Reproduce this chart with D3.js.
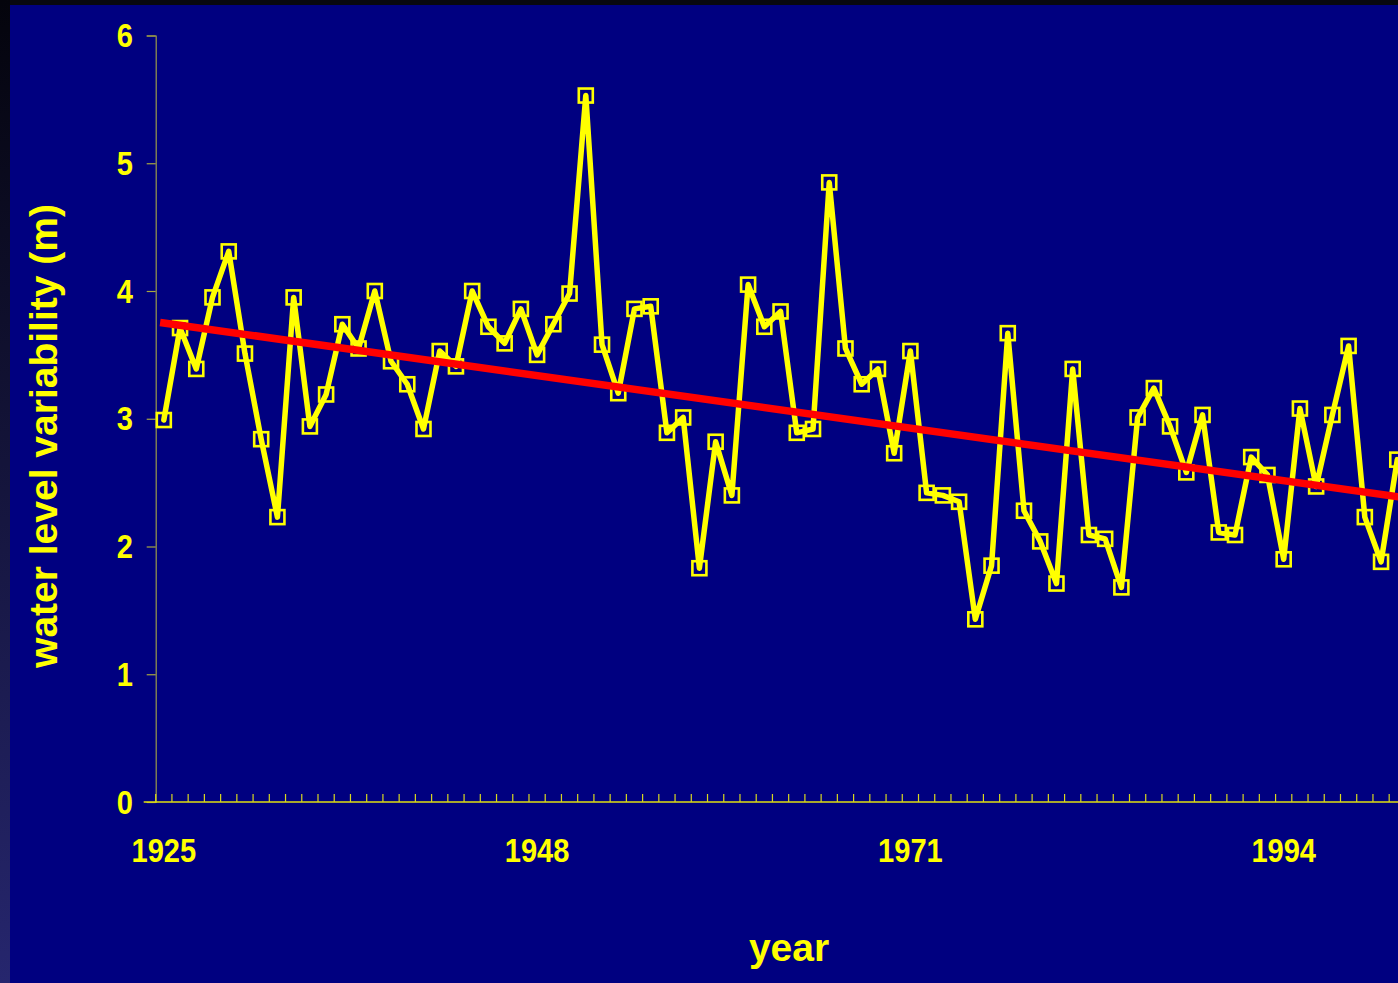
<!DOCTYPE html>
<html>
<head>
<meta charset="utf-8">
<script src="https://cdn.jsdelivr.net/npm/d3@7"></script>
<style>
  html, body { margin: 0; padding: 0; background: #0a0a16; overflow: hidden; }
  svg { display: block; }
</style>
</head>
<body>
<svg id="chart" width="1398" height="983"></svg>
<script>
// ---- data ----
const years = d3.range(1925, 2002);
const levels = [
  2.99, 3.71, 3.39, 3.95, 4.31, 3.51, 2.84, 2.23, 3.95, 2.94,
  3.19, 3.74, 3.55, 4.00, 3.45, 3.27, 2.92, 3.53, 3.41, 4.00,
  3.72, 3.59, 3.86, 3.50, 3.74, 3.98, 5.53, 3.58, 3.20, 3.86,
  3.88, 2.89, 3.01, 1.83, 2.82, 2.40, 4.05, 3.72, 3.84, 2.89,
  2.92, 4.85, 3.55, 3.27, 3.39, 2.73, 3.53, 2.42, 2.40, 2.35,
  1.43, 1.85, 3.67, 2.28, 2.04, 1.71, 3.39, 2.09, 2.06, 1.68,
  3.01, 3.24, 2.94, 2.58, 3.03, 2.11, 2.09, 2.70, 2.56, 1.90,
  3.08, 2.47, 3.03, 3.57, 2.23, 1.88, 2.68
];
const trendYears = [1925, 2001];
const trendValues = [3.75, 2.39];
const xLabelYears = [1925, 1948, 1971, 1994];
const yTicks = [0, 1, 2, 3, 4, 5, 6];
const xTitle = "year";
const yTitle = "water level variability (m)";

// ---- layout ----
const W = 1398, H = 983;
const plotLeft = 155.7, plotTop = 35.5, plotBottom = 802;
const band = 16.23;

const svg = d3.select("#chart");

// background frame
const defs = svg.append("defs");
const lg = defs.append("linearGradient").attr("id", "edge").attr("x1", 0).attr("y1", 0).attr("x2", 0).attr("y2", 1);
lg.append("stop").attr("offset", "0%").attr("stop-color", "#04040c");
lg.append("stop").attr("offset", "100%").attr("stop-color", "#26266e");
svg.append("rect").attr("x", 0).attr("y", 0).attr("width", W).attr("height", H).attr("fill", "#08080f");
svg.append("rect").attr("x", 0).attr("y", 0).attr("width", 10).attr("height", H).attr("fill", "url(#edge)");
svg.append("rect").attr("x", 10).attr("y", 5).attr("width", W - 10).attr("height", H - 5).attr("fill", "#000080");

// scales
const x = d3.scaleBand()
  .domain(years.concat([2002]))
  .range([plotLeft, plotLeft + band * (years.length + 1)])
  .paddingInner(0).paddingOuter(0);
const xc = d => x(d) + x.bandwidth() / 2;
const y = d3.scaleLinear().domain([0, 6]).range([plotBottom, plotTop]);

const font = "'Liberation Sans', Arial, sans-serif";
const yellow = "#ffff00";
const labelSize = 33, labelSX = 0.88;

// y axis (line + ticks); labels drawn separately
const yAxis = d3.axisLeft(y).tickValues(yTicks).tickSize(9).tickFormat("");
const gy = svg.append("g").attr("transform", `translate(${plotLeft},0)`).call(yAxis);
gy.select(".domain").attr("stroke", "#9a9a48").attr("stroke-width", 1.2);
gy.selectAll(".tick line").attr("stroke", "#a8a840").attr("stroke-width", 1.2);

svg.append("g").selectAll("text")
  .data(yTicks)
  .join("text")
  .attr("transform", d => `translate(133,${y(d) + 11.5}) scale(${labelSX},1)`)
  .attr("text-anchor", "end")
  .attr("fill", yellow).attr("font-family", font).attr("font-weight", "bold").attr("font-size", labelSize)
  .text(d => d);

// x axis line
svg.append("line")
  .attr("x1", plotLeft - 12).attr("x2", W + 10)
  .attr("y1", plotBottom).attr("y2", plotBottom)
  .attr("stroke", "#e0e010").attr("stroke-width", 1.4);

// x tick marks between categories (pointing up)
svg.append("g").selectAll("line")
  .data(x.domain())
  .join("line")
  .attr("x1", d => x(d)).attr("x2", d => x(d))
  .attr("y1", plotBottom).attr("y2", plotBottom - 8)
  .attr("stroke", "#d8d820").attr("stroke-width", 1.2);

// x tick labels
svg.append("g").selectAll("text")
  .data(xLabelYears)
  .join("text")
  .attr("transform", d => `translate(${xc(d)},862) scale(${labelSX},1)`)
  .attr("text-anchor", "middle")
  .attr("fill", yellow).attr("font-family", font).attr("font-weight", "bold").attr("font-size", labelSize)
  .text(d => d);

// axis titles
svg.append("text")
  .attr("x", 789).attr("y", 961)
  .attr("text-anchor", "middle")
  .attr("fill", yellow).attr("font-family", font).attr("font-weight", "bold").attr("font-size", 39)
  .text(xTitle);
svg.append("text")
  .attr("transform", `translate(57,436) rotate(-90)`)
  .attr("text-anchor", "middle")
  .attr("fill", yellow).attr("font-family", font).attr("font-weight", "bold").attr("font-size", 39)
  .text(yTitle);

// data line
const pts = years.map((yr, i) => ({ yr, v: levels[i] }));
const line = d3.line().x(d => xc(d.yr)).y(d => y(d.v));
svg.append("path")
  .datum(pts)
  .attr("d", line)
  .attr("fill", "none")
  .attr("stroke", yellow)
  .attr("stroke-width", 5.5)
  .attr("stroke-linejoin", "round")
  .attr("stroke-linecap", "round");

// square markers (hollow)
const ms = 14;
svg.append("g").selectAll("rect")
  .data(pts)
  .join("rect")
  .attr("x", d => xc(d.yr) - ms / 2).attr("y", d => y(d.v) - ms / 2)
  .attr("width", ms).attr("height", ms)
  .attr("fill", "none")
  .attr("stroke", yellow).attr("stroke-width", 2.6);

// linear trend line
const trend = trendYears.map((yr, i) => ({ yr, v: trendValues[i] }));
svg.append("path")
  .datum(trend)
  .attr("d", line)
  .attr("fill", "none")
  .attr("stroke", "#ff0000")
  .attr("stroke-width", 7.5)
  .attr("stroke-linecap", "square");
</script>
</body>
</html>
